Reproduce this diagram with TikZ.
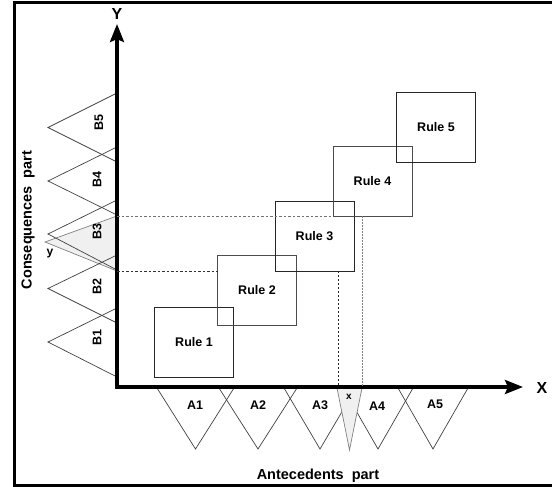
\documentclass[tikz,border=0pt]{standalone}
\usepackage{fontspec}
\setmainfont{Liberation Sans}
\usetikzlibrary{arrows.meta,calc}
\begin{document}
\begin{tikzpicture}[x=1pt,y=-1pt,
  frame/.style={line width=3pt,line join=miter},
  axis/.style={line width=3.5pt,line join=miter,{Stealth[length=18pt,width=14pt,inset=3pt]}-{Stealth[length=18pt,width=14pt,inset=3pt]}},
  rulebox/.style={draw=black!85,line width=0.9pt,minimum width=79pt,minimum height=70pt,inner sep=0pt,outer sep=0pt,font=\bfseries\fontsize{12.5}{14}\selectfont},
  mf/.style={draw=black!75,line width=0.7pt},
  sel/.style={draw=black!50,fill=black!6,line width=0.7pt},
  lab/.style={font=\bfseries\fontsize{12.5}{14}\selectfont,inner sep=0pt},
  blab/.style={lab,rotate=90},
  axlab/.style={font=\bfseries\fontsize{16}{18}\selectfont,inner sep=0pt},
  partlab/.style={font=\bfseries\fontsize{14.5}{16}\selectfont,inner sep=0pt},
  dsh/.style={dash pattern=on 2.5pt off 2pt,line width=0.7pt}
]
\useasboundingbox (0,0) rectangle (552,487);
% frame
\draw[frame] (552,3) -- (14.5,3) -- (14.5,485.5) -- (552,485.5);

% selected regions (shaded)
\draw[sel] (117,216) -- (45,242) -- (117,271);
% B triangles
\draw[mf] (117,93) -- (48,127.5) -- (117,162);
\draw[mf] (117,147) -- (48,181) -- (117,215);
\draw[mf] (117,200) -- (48,234) -- (117,270);
\draw[mf] (117,255) -- (48,288.5) -- (117,323);
\draw[mf] (117,308) -- (48,342) -- (117,377);
% A triangles
\draw[mf] (157,388) -- (195.5,449) -- (234,388);
\draw[mf] (219,388) -- (258,449) -- (297,388);
\draw[mf] (284,388) -- (320,449) -- (356,388);
\draw[mf] (343,388) -- (378,449) -- (413,388);
\draw[mf] (398,388) -- (433,449) -- (468,388);
\draw[sel] (337,388) -- (349.5,450) -- (362,388);

% rules
\node[rulebox] (r1) at (194,342.5) {Rule 1};
\node[rulebox,draw=black!70] (r2) at (257,290) {Rule 2};
\node[rulebox] (r3) at (314.5,236) {Rule 3};
\node[rulebox,draw=black!70] (r4) at (372.5,181) {Rule 4};
\node[rulebox] (r5) at (436,127) {Rule 5};

% axes
\coordinate (ytop) at (117,24);
\coordinate (org) at (117,387);
\coordinate (xend) at (523,387);
\draw[axis] (ytop) -- (org) -- (xend);

% projection lines
\coordinate (yl) at (org |- r4.south);
\coordinate (yh) at (org |- r3.south);
\coordinate (r2l) at (r2.west |- r3.south);
\coordinate (px1) at ($(r3.south west)!0.80!(r3.south east)$);
\coordinate (px2) at ($(r4.south west)!0.367!(r4.south east)$);
\draw[dsh,black!55] (yl) -- (r4.south west);
\draw[dsh,black!80] (yh) -- (r2l);
\draw[dsh,black!85,dash pattern=on 2pt off 2pt] (px1) -- (px1 |- org);
\draw[dsh,black!50,dash pattern=on 1.5pt off 1.5pt] (px2) -- (px2 |- org);

% labels
\node[axlab] (ylab) at (117,14) {Y};
\node[axlab] (xlab) at (542,388) {X};
\node[lab] (la1) at (195,405) {A1};
\node[lab] (la2) at (258,405) {A2};
\node[lab] (la3) at (320,405) {A3};
\node[lab] (la4) at (377,406) {A4};
\node[lab] (la5) at (435,404) {A5};
\node[lab,font=\bfseries\fontsize{10}{12}\selectfont] (lx) at (349,397) {x};
\node[blab] (lb5) at (99,123) {B5};
\node[blab] (lb4) at (97,180) {B4};
\node[blab] (lb3) at (97,232) {B3};
\node[blab] (lb2) at (97,287) {B2};
\node[blab] (lb1) at (97,338) {B1};
\node[lab,font=\bfseries\fontsize{12}{14}\selectfont] (ly) at (50,254) {y};
\node[partlab] (ant) at (318,476) {Antecedents\ \ part};
\node[partlab,rotate=90] (cons) at (28,220) {Consequences\ \ part};
\end{tikzpicture}
\end{document}
